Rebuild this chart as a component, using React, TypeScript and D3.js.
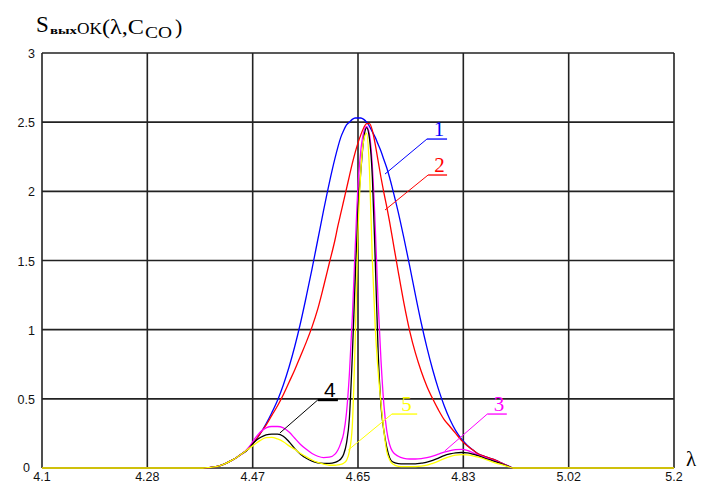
import React from 'react';
import * as d3 from 'd3';

// wavelength grid shared by all curves (finer around the central peak)
const lambda = [
  4.1, 4.38, 4.39, 4.4, 4.41, 4.42, 4.43, 4.44, 4.45, 4.46,
  4.47, 4.48, 4.49, 4.5, 4.51, 4.52, 4.53, 4.54, 4.55, 4.56,
  4.57, 4.58, 4.59, 4.6, 4.61, 4.615, 4.62, 4.625, 4.63, 4.635,
  4.64, 4.645, 4.65, 4.655, 4.66, 4.665, 4.67, 4.675, 4.68, 4.685,
  4.69, 4.695, 4.7, 4.705, 4.71, 4.72, 4.73, 4.74, 4.75, 4.76,
  4.77, 4.78, 4.79, 4.8, 4.81, 4.82, 4.83, 4.84, 4.85, 4.86,
  4.87, 4.88, 4.89, 4.9, 4.91, 4.92, 5.2,
];

// curve 1 (blue)
const s1 = [
  0, 0, 0.003, 0.008, 0.018, 0.034, 0.055, 0.08, 0.108, 0.14,
  0.19, 0.25, 0.32, 0.4, 0.49, 0.6, 0.73, 0.88, 1.05, 1.24,
  1.44, 1.65, 1.86, 2.06, 2.24, 2.32, 2.39, 2.44, 2.48, 2.5,
  2.52, 2.53, 2.53, 2.53, 2.52, 2.5, 2.47, 2.43, 2.39, 2.34,
  2.29, 2.23, 2.17, 2.1, 2.02, 1.85, 1.66, 1.46, 1.25, 1.05,
  0.87, 0.71, 0.57, 0.45, 0.35, 0.27, 0.21, 0.165, 0.13, 0.1,
  0.085, 0.07, 0.055, 0.035, 0.018, 0, 0,
];

// curve 2 (red)
const s2 = [
  0, 0, 0.003, 0.008, 0.018, 0.034, 0.055, 0.08, 0.108, 0.14,
  0.19, 0.25, 0.31, 0.38, 0.45, 0.53, 0.62, 0.71, 0.81, 0.91,
  1.02, 1.15, 1.31, 1.48, 1.65, 1.75, 1.84, 1.93, 2.02, 2.11,
  2.2, 2.28, 2.35, 2.41, 2.46, 2.49, 2.49, 2.44, 2.34, 2.22,
  2.1, 1.99, 1.89, 1.78, 1.66, 1.42, 1.19, 0.99, 0.83, 0.7,
  0.59, 0.5, 0.42, 0.35, 0.3, 0.25, 0.2, 0.16, 0.13, 0.1,
  0.085, 0.07, 0.055, 0.035, 0.018, 0, 0,
];

// curve 3 (magenta)
const s3 = [
  0, 0, 0.003, 0.008, 0.018, 0.034, 0.055, 0.08, 0.108, 0.15,
  0.21, 0.26, 0.29, 0.3, 0.3, 0.29, 0.26, 0.215, 0.17, 0.135,
  0.105, 0.085, 0.075, 0.078, 0.1, 0.13, 0.18, 0.25, 0.4, 0.68,
  1.08, 1.58, 2.04, 2.3, 2.43, 2.47, 2.41, 2.18, 1.75, 1.2,
  0.78, 0.46, 0.27, 0.17, 0.12, 0.085, 0.07, 0.065, 0.065, 0.068,
  0.075, 0.085, 0.1, 0.115, 0.125, 0.133, 0.135, 0.128, 0.11, 0.092,
  0.077, 0.062, 0.048, 0.032, 0.016, 0, 0,
];

// curve 4 (black)
const s4 = [
  0, 0, 0.003, 0.008, 0.018, 0.034, 0.055, 0.08, 0.108, 0.14,
  0.19, 0.22, 0.24, 0.245, 0.245, 0.23, 0.19, 0.14, 0.1, 0.07,
  0.05, 0.038, 0.033, 0.033, 0.04, 0.05, 0.065, 0.1, 0.18, 0.36,
  0.8, 1.35, 1.85, 2.15, 2.38, 2.46, 2.38, 2.1, 1.5, 0.85,
  0.45, 0.27, 0.15, 0.075, 0.045, 0.032, 0.03, 0.03, 0.03, 0.035,
  0.042, 0.055, 0.072, 0.09, 0.102, 0.11, 0.112, 0.11, 0.1, 0.087,
  0.072, 0.058, 0.045, 0.03, 0.015, 0, 0,
];

// curve 5 (yellow)
const s5 = [
  0, 0, 0.003, 0.008, 0.018, 0.034, 0.055, 0.08, 0.108, 0.14,
  0.17, 0.2, 0.22, 0.222, 0.21, 0.19, 0.16, 0.135, 0.105, 0.08,
  0.058, 0.04, 0.028, 0.02, 0.02, 0.022, 0.026, 0.035, 0.055, 0.12,
  0.3, 0.9, 1.7, 2.15, 2.37, 2.42, 2.15, 1.5, 1.02, 0.7,
  0.47, 0.27, 0.12, 0.06, 0.03, 0.012, 0.01, 0.01, 0.01, 0.013,
  0.02, 0.034, 0.05, 0.068, 0.083, 0.093, 0.097, 0.095, 0.088, 0.078,
  0.065, 0.05, 0.036, 0.024, 0.012, 0, 0,
];

const xTicks = [4.1, 4.2833, 4.4667, 4.65, 4.8333, 5.0167, 5.2];
const xTickLabels = ['4.1', '4.28', '4.47', '4.65', '4.83', '5.02', '5.2'];
const yTicks = [0, 0.5, 1, 1.5, 2, 2.5, 3];
const yTickLabels = ['0', '0.5', '1', '1.5', '2', '2.5', '3'];

const curveNames = ['1', '2', '3', '4', '5'];
const curveColors = ['#0000ff', '#ff0000', '#ff00ff', '#000000', '#ffff00'];
// label leaders: tip on the curve, elbow, end of underline (data units)
const leaderTip = [[4.697, 2.125], [4.697, 1.865], [4.801, 0.123], [4.514, 0.253], [4.633, 0.13]];
const leaderElbow = [[4.77, 2.378], [4.772, 2.118], [4.875, 0.39], [4.58, 0.492], [4.709, 0.39]];
const leaderEnd = [4.805, 4.805, 4.909, 4.615, 4.753];

const W = 702;
const H = 486;
const plot = { left: 42, right: 674, top: 53, bottom: 468 };

export default function App() {
  const x = d3.scaleLinear().domain([4.1, 5.2]).range([plot.left, plot.right]);
  const y = d3.scaleLinear().domain([0, 3]).range([plot.bottom, plot.top]);

  const series = [s1, s2, s3, s4, s5];
  const line = d3
    .line<number>()
    .x((_, i) => x(lambda[i]))
    .y((d) => y(d))
    .curve(d3.curveMonotoneX);

  const serif = '"Liberation Serif", "Times New Roman", serif';
  const sans = '"Liberation Sans", Arial, sans-serif';

  return (
    <svg
      width={W}
      height={H}
      style={{ position: 'absolute', left: 0, top: 0, background: '#fff' }}
    >
      {/* title */}
      <text x={36} y={32} fontFamily={serif} fontSize={23}>S</text>
      <text x={50} y={34} fontFamily={serif} fontSize={10} fontWeight="bold" textLength={27} lengthAdjust="spacingAndGlyphs">вых</text>
      <text x={77} y={34} fontFamily={serif} fontSize={17} textLength={25} lengthAdjust="spacingAndGlyphs">OK</text>
      <text x={102} y={34} fontFamily={serif} fontSize={22} textLength={42} lengthAdjust="spacingAndGlyphs">(λ,C</text>
      <text x={145} y={38} fontFamily={serif} fontSize={16} textLength={27} lengthAdjust="spacingAndGlyphs">CO</text>
      <text x={175} y={34} fontFamily={serif} fontSize={22}>)</text>

      {/* grid */}
      <g stroke="#222" strokeWidth={1.6}>
        {xTicks.map((t) => (
          <line key={'gx' + t} x1={x(t)} x2={x(t)} y1={y(3)} y2={y(0)} />
        ))}
        {yTicks.map((t) => (
          <line key={'gy' + t} x1={x(4.1)} x2={x(5.2)} y1={y(t)} y2={y(t)} />
        ))}
      </g>

      {/* tick labels */}
      <g fontFamily={sans} fontSize={12.5} fill="#111">
        {yTicks.map((t, i) => (
          <text
            key={'ly' + t}
            x={t === 0 ? 30 : 35}
            y={y(t) + (t === 0 ? 4 : 5)}
            textAnchor="end"
          >
            {yTickLabels[i]}
          </text>
        ))}
        {xTicks.map((t, i) => (
          <text key={'lx' + t} x={x(t)} y={481} textAnchor="middle">
            {xTickLabels[i]}
          </text>
        ))}
      </g>
      <text x={686} y={466} fontFamily={serif} fontSize={21}>λ</text>

      {/* curves */}
      <g fill="none" strokeWidth={1.3}>
        {series.map((s, k) => (
          <path key={'c' + k} d={line(s) || ''} stroke={curveColors[k]} />
        ))}
      </g>

      {/* curve labels */}
      {curveNames.map((name, k) => {
        const tx = x(leaderTip[k][0]);
        const ty = y(leaderTip[k][1]);
        const ex = x(leaderElbow[k][0]);
        const ey = y(leaderElbow[k][1]);
        const ux = x(leaderEnd[k]);
        return (
          <g key={'lab' + k} stroke={curveColors[k]}>
            <line x1={tx} y1={ty} x2={ex} y2={ey} strokeWidth={1} />
            <line x1={ex} y1={ey} x2={ux} y2={ey} strokeWidth={k === 3 ? 2.5 : 1.3} />
            <text
              x={(ex + ux) / 2 + 2}
              y={ey - 3}
              textAnchor="middle"
              stroke="none"
              fill={curveColors[k]}
              fontFamily={k === 3 ? sans : serif}
              fontSize={21}
            >
              {name}
            </text>
          </g>
        );
      })}
    </svg>
  );
}
